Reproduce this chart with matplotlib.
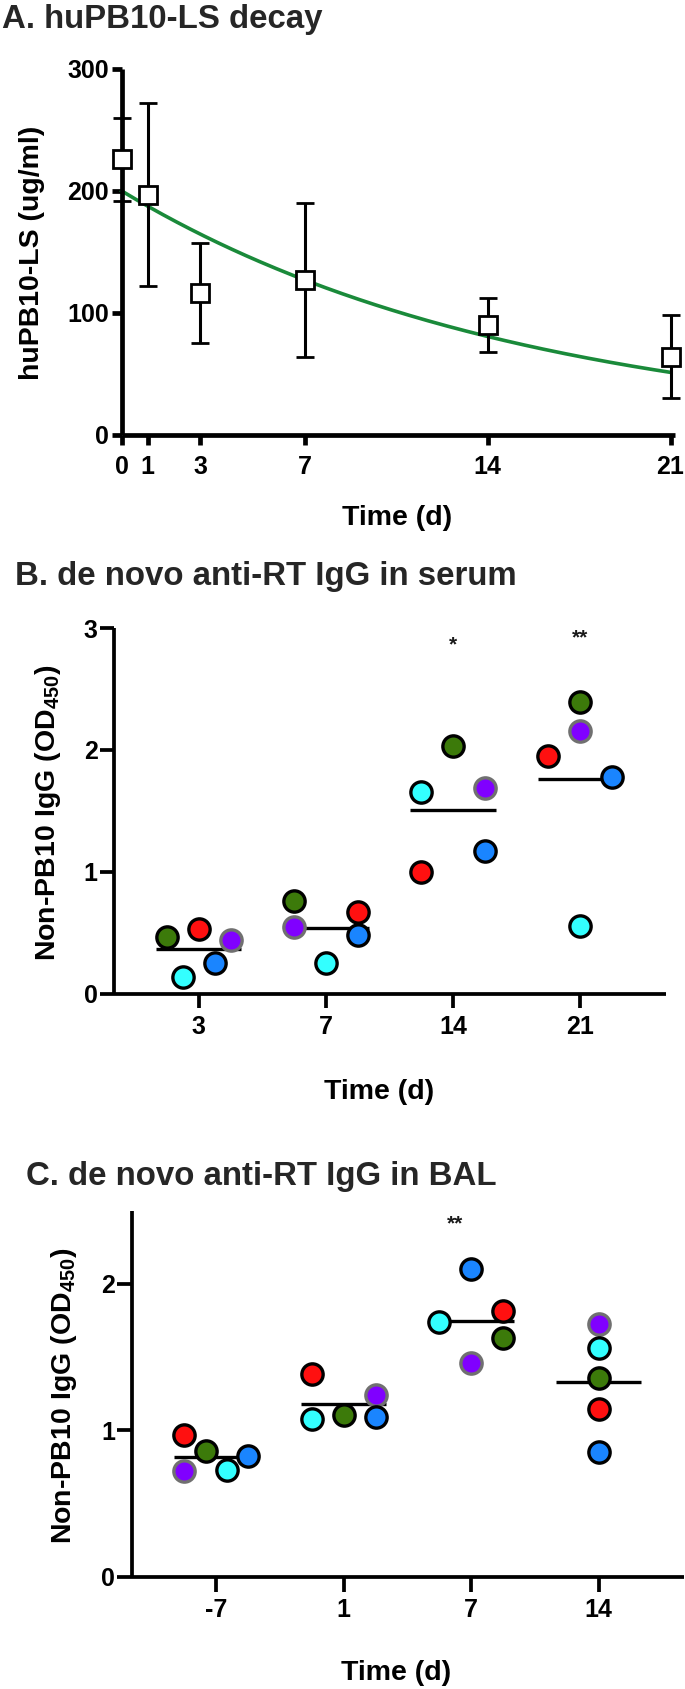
import numpy as np
import matplotlib
matplotlib.use("Agg")
import matplotlib.pyplot as plt

# ---------------- data ----------------
# Panel A: huPB10-LS decay
A_DAYS = [0, 1, 3, 7, 14, 21]
A_MEAN = [226, 197, 116, 127, 90, 64]
A_ERR = [34, 75, 41, 63, 22, 34]
A_FIT_Y0 = 200.0          # fitted one-phase decay start
A_FIT_HALFLIFE = 10.7     # fitted half-life (days)
A_YTICKS = [0, 100, 200, 300]

# Panel B: de novo anti-RT IgG in serum (days 3, 7, 14, 21)
B_LABELS = ["3", "7", "14", "21"]
B_GREEN = [0.467, 0.760, 2.036, 2.393]
B_RED = [0.535, 0.672, 0.999, 1.952]
B_PURPLE = [0.438, 0.546, 1.686, 2.153]
B_BLUE = [0.254, 0.482, 1.174, 1.776]
B_CYAN = [0.140, 0.257, 1.659, 0.555]
B_STARS = ["", "", "*", "**"]

# Panel C: de novo anti-RT IgG in BAL (days -7, 1, 7, 14)
C_LABELS = ["-7", "1", "7", "14"]
C_GREEN = [0.856, 1.104, 1.629, 1.356]
C_RED = [0.965, 1.381, 1.814, 1.146]
C_PURPLE = [0.718, 1.240, 1.460, 1.728]
C_BLUE = [0.824, 1.089, 2.104, 0.854]
C_CYAN = [0.725, 1.079, 1.740, 1.562]
C_STARS = ["", "", "**", ""]

# horizontal scatter offsets (layout, category units)
B_JIT = {
    "green": [-0.25, -0.25, 0.0, 0.0],
    "red": [0.0, 0.25, -0.25, -0.25],
    "purple": [0.25, -0.25, 0.25, 0.0],
    "blue": [0.125, 0.25, 0.25, 0.25],
    "cyan": [-0.125, 0.0, -0.25, 0.0],
}
C_JIT = {
    "green": [-0.083, 0.0, 0.25, 0.0],
    "red": [-0.25, -0.25, 0.25, 0.0],
    "purple": [-0.25, 0.25, 0.0, 0.0],
    "blue": [0.25, 0.25, 0.0, 0.0],
    "cyan": [0.083, -0.25, -0.25, 0.0],
}

# ---------------- style ----------------
COL = {"green": "#3c7a0a", "red": "#ff1010", "purple": "#8000ff",
       "blue": "#1a85ff", "cyan": "#33ffff"}
EDGE = {"green": "black", "red": "black", "purple": "#707070",
        "blue": "black", "cyan": "black"}

plt.rcParams["font.family"] = ["Liberation Sans", "DejaVu Sans"]
plt.rcParams["font.weight"] = "bold"
plt.rcParams["mathtext.fontset"] = "custom"
plt.rcParams["mathtext.rm"] = "Liberation Sans:bold"
plt.rcParams["mathtext.bf"] = "Liberation Sans:bold"
plt.rcParams["mathtext.it"] = "Liberation Sans:bold"

W, H = 685, 1689
fig = plt.figure(figsize=(W / 100, H / 100), dpi=100)


def fx(px):
    return px / W


def fy(py):
    return 1 - py / H


def make_ax(left, right, top, bottom):
    return fig.add_axes([fx(left), fy(bottom), fx(right) - fx(left), fy(top) - fy(bottom)])


def style_ax(ax, lw, ticklen, xpad, ypad):
    for s in ["top", "right"]:
        ax.spines[s].set_visible(False)
    for s in ["left", "bottom"]:
        ax.spines[s].set_linewidth(lw)
        ax.spines[s].set_capstyle("butt")
    ax.tick_params(axis="both", width=lw, length=ticklen, labelsize=18, color="black")
    ax.tick_params(axis="x", pad=xpad)
    ax.tick_params(axis="y", pad=ypad)
    for lab in ax.get_xticklabels() + ax.get_yticklabels():
        lab.set_fontweight("bold")


TITLE_KW = dict(fontsize=23.8, fontweight="bold", color="#262626", ha="left", va="baseline")
LABEL_FS = 20.5

# ---------------- Panel A ----------------
axA = make_ax(121.7, 675, 68.9, 435)
t = np.linspace(0, 21, 200)
axA.plot(t, A_FIT_Y0 * np.exp(-np.log(2) / A_FIT_HALFLIFE * t), color="#1a8a3a", lw=2.6, zorder=2)
axA.errorbar(A_DAYS, A_MEAN, yerr=A_ERR, fmt="s", ms=12.5, mfc="white", mec="black", mew=2.0,
             ecolor="black", elinewidth=2.2, capsize=6.3, capthick=2.2, zorder=3, clip_on=False)
axA.set_xlim(0, 21.17)
axA.set_ylim(0, 300)
axA.set_xticks(A_DAYS)
axA.set_yticks(A_YTICKS)
style_ax(axA, 3.4, 7, 7.5, 2)
for ln in axA.get_lines():
    ln.set_clip_on(False)
fig.text(fx(1.7), fy(28.3), "A. huPB10-LS decay", **TITLE_KW)
fig.text(fx(397.5), fy(525), "Time (d)", fontsize=LABEL_FS, fontweight="bold", ha="center", va="baseline")
fig.text(fx(31.7), fy(252.6), "huPB10-LS (ug/ml)", fontsize=LABEL_FS, fontweight="bold",
         rotation=90, ha="center", va="center")


def dot_panel(ax, labels, series, jit, stars, star_y, star_dx):
    n = len(labels)
    pos = np.arange(n)
    for name, vals in series.items():
        ax.scatter(pos + np.array(jit[name]), vals, s=235, c=COL[name], edgecolors=EDGE[name],
                   linewidths=2.4, zorder=3, clip_on=False)
    allv = np.array(list(series.values()))
    means = allv.mean(axis=0)
    for i in range(n):
        ax.plot([pos[i] - 0.335, pos[i] + 0.335], [means[i], means[i]], color="black", lw=2.4,
                zorder=2, solid_capstyle="butt")
    for i, s in enumerate(stars):
        if s:
            ax.text(pos[i] + star_dx[i], star_y[i], s, ha="center", va="center", fontsize=15,
                    fontweight="bold", color="#1a1a1a")
    ax.set_xticks(pos)
    ax.set_xticklabels(labels)


# ---------------- Panel B ----------------
axB = make_ax(114.3, 666, 628, 993.9)
dot_panel(axB, B_LABELS,
          {"green": B_GREEN, "red": B_RED, "purple": B_PURPLE, "blue": B_BLUE, "cyan": B_CYAN},
          B_JIT, B_STARS, [0, 0, 2.86, 2.92], [0, 0, 0, 0])
axB.set_xlim(-0.665, 3.675)
axB.set_ylim(0, 3)
axB.set_yticks([0, 1, 2, 3])
style_ax(axB, 2.7, 10, 5, 2)
fig.text(fx(15.3), fy(585), "B. de novo anti-RT IgG in serum", **TITLE_KW)
fig.text(fx(379), fy(1099.2), "Time (d)", fontsize=LABEL_FS, fontweight="bold", ha="center", va="baseline")
fig.text(fx(48), fy(812.6), r"Non-PB10 IgG (OD$_{450}$)", fontsize=LABEL_FS, fontweight="bold",
         rotation=90, ha="center", va="center")

# ---------------- Panel C ----------------
axC = make_ax(132.4, 683.7, 1210.7, 1576.5)
dot_panel(axC, C_LABELS,
          {"green": C_GREEN, "red": C_RED, "purple": C_PURPLE, "blue": C_BLUE, "cyan": C_CYAN},
          C_JIT, C_STARS, [0, 0, 2.41, 0], [0, 0, -0.125, 0])
axC.set_xlim(-0.658, 3.668)
axC.set_ylim(0, 2.5)
axC.set_yticks([0, 1, 2])
style_ax(axC, 2.7, 10.5, 5, 2)
fig.text(fx(26.2), fy(1185.3), "C. de novo anti-RT IgG in BAL", **TITLE_KW)
fig.text(fx(396), fy(1680), "Time (d)", fontsize=LABEL_FS, fontweight="bold", ha="center", va="baseline")
fig.text(fx(64.4), fy(1395.8), r"Non-PB10 IgG (OD$_{450}$)", fontsize=LABEL_FS, fontweight="bold",
         rotation=90, ha="center", va="center")

fig.savefig("out.png", dpi=100)
